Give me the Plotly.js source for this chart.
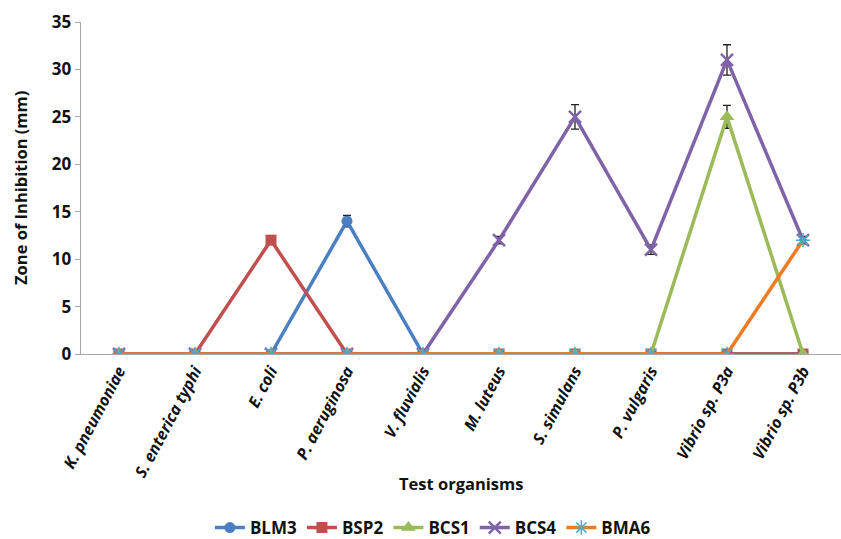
<!DOCTYPE html>
<html>
<head>
<meta charset="utf-8">
<script src="https://cdn.plot.ly/plotly-3.0.1.min.js"></script>
<style>html,body{margin:0;padding:0;background:#fff;}#chart{width:841px;height:539px;}</style>
</head>
<body>
<div id="chart"></div>
<script>
const organisms = ["K. pneumoniae","S. enterica typhi","E. coli","P. aeruginosa","V. fluvialis","M. luteus","S. simulans","P. vulgaris","Vibrio sp. P3a","Vibrio sp. P3b"];
const seriesNames = ["BLM3","BSP2","BCS1","BCS4","BMA6"];
const BLM3 = [0,0,0,14,0,0,0,0,0,0];
const BLM3_err = [0,0,0,0.6,0,0,0,0,0,0];
const BSP2 = [0,0,12,0,0,0,0,0,0,0];
const BSP2_err = [0,0,0,0,0,0,0,0,0,0];
const BCS1 = [0,0,0,0,0,0,0,0,25,0];
const BCS1_err = [0,0,0,0,0,0,0,0,1.2,0];
const BCS4 = [0,0,0,0,0,12,25,11,31,12];
const BCS4_err = [0,0,0,0,0,0.4,1.3,0.5,1.6,0.4];
const BMA6 = [0,0,0,0,0,0,0,0,0,12];
const BMA6_err = [0,0,0,0,0,0,0,0,0,0];

const F = "Open Sans, Liberation Sans, sans-serif";
function tr(name, y, err, color, symbol, msize, mcolor, mline) {
  return {
    type: "scatter", mode: "lines+markers", name: name,
    x: organisms, y: y,
    line: {color: color, width: 3.5},
    marker: {symbol: symbol, size: msize, color: mcolor, line: mline},
    error_y: {type: "data", array: err, visible: true, color: "#222", thickness: 1.3, width: 4}
  };
}
const data = [
  tr(seriesNames[0], BLM3, BLM3_err, "#4a7fc1", "circle", 11, "#4a7fc1", {width: 0}),
  tr(seriesNames[1], BSP2, BSP2_err, "#c0504d", "square", 11, "#c0504d", {width: 0}),
  tr(seriesNames[2], BCS1, BCS1_err, "#9bbb59", "triangle-up", 13, "#9bbb59", {width: 0}),
  tr(seriesNames[3], BCS4, BCS4_err, "#7f62a8", "x-thin-open", 12, "#7f62a8", {width: 2.5, color: "#7f62a8"}),
  tr(seriesNames[4], BMA6, BMA6_err, "#f07a22", "asterisk-open", 12, "#4bacc6", {width: 1.5, color: "#4bacc6"})
];
const layout = {
  width: 841, height: 539,
  margin: {l: 81, r: 0, t: 22, b: 185, autoexpand: false},
  paper_bgcolor: "#fff", plot_bgcolor: "#fff",
  showlegend: true,
  legend: {orientation: "h", x: 0.463, xanchor: "center", y: -0.524, yanchor: "middle",
    font: {family: F, size: 17, color: "#111", weight: "bold"}, itemwidth: 30, tracegroupgap: 0},
  xaxis: {
    type: "category", range: [-0.5, 9.5], showgrid: false, zeroline: false, automargin: false,
    showline: true, linecolor: "#a6a6a6", linewidth: 1.3, ticks: "",
    tickangle: -62, tickfont: {family: F, size: 16, color: "#111", weight: "bold", style: "italic"}
  },
  yaxis: {
    range: [0, 35], dtick: 5, showgrid: false, zeroline: false, automargin: false,
    showline: true, linecolor: "#a6a6a6", linewidth: 1.3, ticks: "outside", ticklen: 5, tickcolor: "#a6a6a6",
    tickfont: {family: F, size: 17, color: "#111", weight: "bold"}
  },
  annotations: [
    {text: "Test organisms", xref: "paper", yref: "paper", x: 0.5, y: -0.3886, xanchor: "center", yanchor: "middle",
     showarrow: false, font: {family: F, size: 16.5, color: "#111", weight: "bold"}},
    {text: "Zone of Inhibition (mm)", xref: "paper", yref: "paper", x: -0.0803, y: 0.5, xanchor: "center", yanchor: "middle",
     textangle: -90, showarrow: false, font: {family: F, size: 16.5, color: "#111", weight: "bold"}}
  ]
};
Plotly.newPlot("chart", data, layout, {displayModeBar: false, staticPlot: true});
</script>
</body>
</html>
